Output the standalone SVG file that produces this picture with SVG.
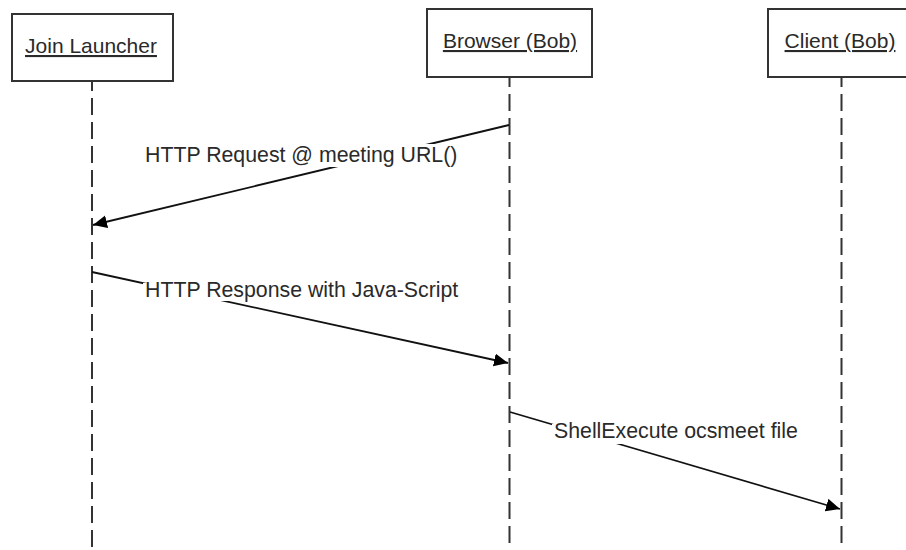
<svg xmlns="http://www.w3.org/2000/svg" width="906" height="550" viewBox="0 0 906 550">
<style>
.box{fill:#fff;stroke:#333;stroke-width:2}
.life{stroke:#333;stroke-width:2;stroke-dasharray:17 7;stroke-dashoffset:7;fill:none}
.msg{stroke:#111;stroke-width:1.8;fill:none;marker-end:url(#ah)}
.hd{font-family:"Liberation Sans",Arial,sans-serif;font-size:21px;fill:#2a2a2a;text-anchor:middle;text-decoration:underline}
.lb{font-family:"Liberation Sans",Arial,sans-serif;font-size:21.3px;fill:#2a2a2a}
.bg{fill:#fff}
</style>
<defs>
<marker id="ah" markerUnits="userSpaceOnUse" markerWidth="16" markerHeight="14" refX="14" refY="6.5" orient="auto">
<path d="M0,0 L14,6.5 L0,13 Z" fill="#000"/>
</marker>
</defs>
<rect width="906" height="550" fill="#fff"/>
<g id="connectors">
<line class="life" x1="92" y1="81" x2="92" y2="550"/>
<line class="life" x1="509.5" y1="77" x2="509.5" y2="550"/>
<line class="life" x1="841.5" y1="77" x2="841.5" y2="550"/>
<line class="msg" x1="509" y1="125" x2="93" y2="225"/>
<rect class="bg" x="140" y="144" width="320" height="23"/>
<text class="lb" x="145" y="162">HTTP Request @ meeting URL()</text>
<line class="msg" x1="92" y1="272" x2="508" y2="363"/>
<rect class="bg" x="143" y="283" width="318" height="18"/>
<text class="lb" x="145" y="297">HTTP Response with Java-Script</text>
<line class="msg" x1="510" y1="412" x2="840" y2="509"/>
<rect class="bg" x="552" y="424" width="248" height="20"/>
<text class="lb" x="554" y="438">ShellExecute ocsmeet file</text>
</g>
<g id="join-launcher">
<rect class="box" x="12" y="14" width="161" height="67"/>
<text class="hd" x="91" y="53">Join Launcher</text>
</g>
<g id="browser-bob">
<rect class="box" x="427" y="9" width="165" height="68"/>
<text class="hd" x="510" y="48">Browser (Bob)</text>
</g>
<g id="client-bob">
<rect class="box" x="768" y="9" width="150" height="68"/>
<text class="hd" x="840" y="48">Client (Bob)</text>
</g>
</svg>
